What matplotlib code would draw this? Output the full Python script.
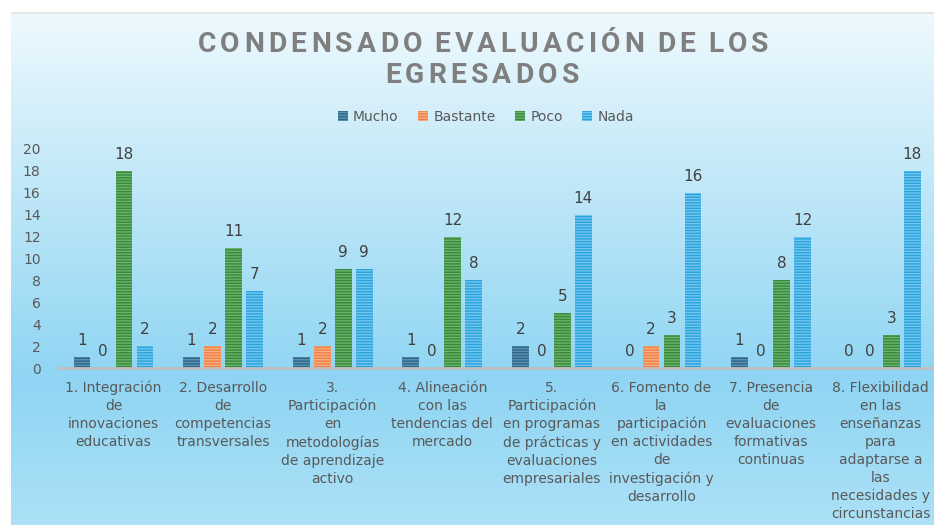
import numpy as np
import matplotlib
matplotlib.use("Agg")
import matplotlib.pyplot as plt
from matplotlib.patches import Patch
from matplotlib.colors import to_rgb

# ---------------- data ----------------
categories = [
    "1. Integración\nde\ninnovaciones\neducativas",
    "2. Desarrollo\nde\ncompetencias\ntransversales",
    "3.\nParticipación\nen\nmetodologías\nde aprendizaje\nactivo",
    "4. Alineación\ncon las\ntendencias del\nmercado",
    "5.\nParticipación\nen programas\nde prácticas y\nevaluaciones\nempresariales",
    "6. Fomento de\nla\nparticipación\nen actividades\nde\ninvestigación y\ndesarrollo",
    "7. Presencia\nde\nevaluaciones\nformativas\ncontinuas",
    "8. Flexibilidad\nen las\nenseñanzas\npara\nadaptarse a\nlas\nnecesidades y\ncircunstancias",
]
series_names = ["Mucho", "Bastante", "Poco", "Nada"]
mucho = [1, 1, 1, 1, 2, 0, 1, 0]
bastante = [0, 2, 2, 0, 0, 2, 0, 0]
poco = [18, 11, 9, 12, 5, 3, 8, 3]
nada = [2, 7, 9, 8, 14, 16, 12, 18]
yticks = [0, 2, 4, 6, 8, 10, 12, 14, 16, 18, 20]
title_lines = ["CONDENSADO EVALUACIÓN DE LOS", "EGRESADOS"]

face_colors = ["#2b688a", "#ef7f45", "#37883a", "#29a3dd"]
stripe_colors = ["#5f92b0", "#f7ad82", "#6cb36c", "#74c6ee"]

W, H = 934, 525
fig = plt.figure(figsize=(W / 100, H / 100), dpi=100)
fig.patch.set_facecolor("white")

# ---------------- background gradient ----------------
bg = fig.add_axes([11 / W, 0, 1 - 11 / W, (H - 12) / H])
bg.set_axis_off()
ys = np.linspace(12, H, 400)
stops_y = [12, 150, 380, 525]
stops_c = [to_rgb("#eff9fe"), to_rgb("#c9ebf9"), to_rgb("#8fd5f3"), to_rgb("#ace1f7")]
grad = np.zeros((len(ys), 1, 3))
for k in range(3):
    grad[:, 0, k] = np.interp(ys, stops_y, [c[k] for c in stops_c])
bg.imshow(grad, aspect="auto", extent=[0, 1, 0, 1], origin="upper")
bg.set_xlim(0, 1)
bg.set_ylim(0, 1)
bg.axhline(1, color="#e6e6e6", lw=3)

# ---------------- main axes ----------------
left_px, right_px = 58.7, 935.5
bottom_px, top_px = 368, 149
ax = fig.add_axes([left_px / W, (H - bottom_px) / H,
                   (right_px - left_px) / W, (bottom_px - top_px) / H])
ax.patch.set_alpha(0)
plt.rcParams["hatch.linewidth"] = 1.0

x = np.arange(len(categories))
step = 0.1916
width = 0.155
all_series = [mucho, bastante, poco, nada]
for i, vals in enumerate(all_series):
    pos = x + (i - 1.5) * step
    ax.bar(pos, vals, width=width, color=face_colors[i],
           edgecolor=stripe_colors[i], hatch="------", linewidth=0, zorder=3)
    for px_, v in zip(pos, vals):
        ax.annotate(str(v), (px_, v), xytext=(0, 6.5), textcoords="offset points",
                    ha="center", va="bottom", fontsize=11, color="#404040")

ax.set_xlim(-0.5, len(categories) - 0.5)
ax.set_ylim(0, 20)
ax.set_yticks(yticks)
ax.set_yticklabels([str(t) for t in yticks], fontsize=10, color="#595959")
ax.set_xticks(x)
ax.set_xticklabels(categories, fontsize=10, color="#595959", linespacing=1.37)
ax.tick_params(axis="both", length=0)
ax.tick_params(axis="y", pad=13)
ax.tick_params(axis="x", pad=9)
for s in ["top", "right", "left"]:
    ax.spines[s].set_visible(False)
ax.spines["bottom"].set_color("#bfbfbf")
ax.spines["bottom"].set_linewidth(2)
ax.spines["bottom"].set_zorder(4)

# ---------------- title (letter-spaced) ----------------
renderer = fig.canvas.get_renderer()
title_kw = dict(fontsize=20.3, fontweight="bold", color="#7f7f7f",
                family=["Roboto", "DejaVu Sans"], va="baseline", ha="left")


def char_widths(s):
    ws = []
    for ch in s:
        t = fig.text(0, 0, ch if ch != " " else "n", **title_kw)
        w = t.get_window_extent(renderer).width
        t.remove()
        ws.append(w * (0.25 if ch == " " else 1.0))
    return ws


w1 = char_widths(title_lines[0])
target1 = 571.0
tracking = (target1 - sum(w1)) / (len(w1) - 1)


def spaced_text(s, cx, baseline_y):
    ws = char_widths(s)
    total = sum(ws) + tracking * (len(ws) - 1)
    xpos = cx - total / 2
    for ch, w in zip(s, ws):
        if ch != " ":
            fig.text(xpos / W, 1 - baseline_y / H, ch, **title_kw)
        xpos += w + tracking


spaced_text(title_lines[0], 483, 52)
spaced_text(title_lines[1], 482, 83)

# ---------------- legend ----------------
handles = [Patch(facecolor=face_colors[i], edgecolor=stripe_colors[i],
                 hatch="------", linewidth=0) for i in range(4)]
fig.legend(handles, series_names, loc="center", bbox_to_anchor=(486 / W, 1 - 117 / H),
           ncol=4, frameon=False, fontsize=10, labelcolor="#595959",
           handlelength=0.7, handleheight=0.7, handletextpad=0.4, columnspacing=1.4)

fig.savefig("out.png", dpi=100)
